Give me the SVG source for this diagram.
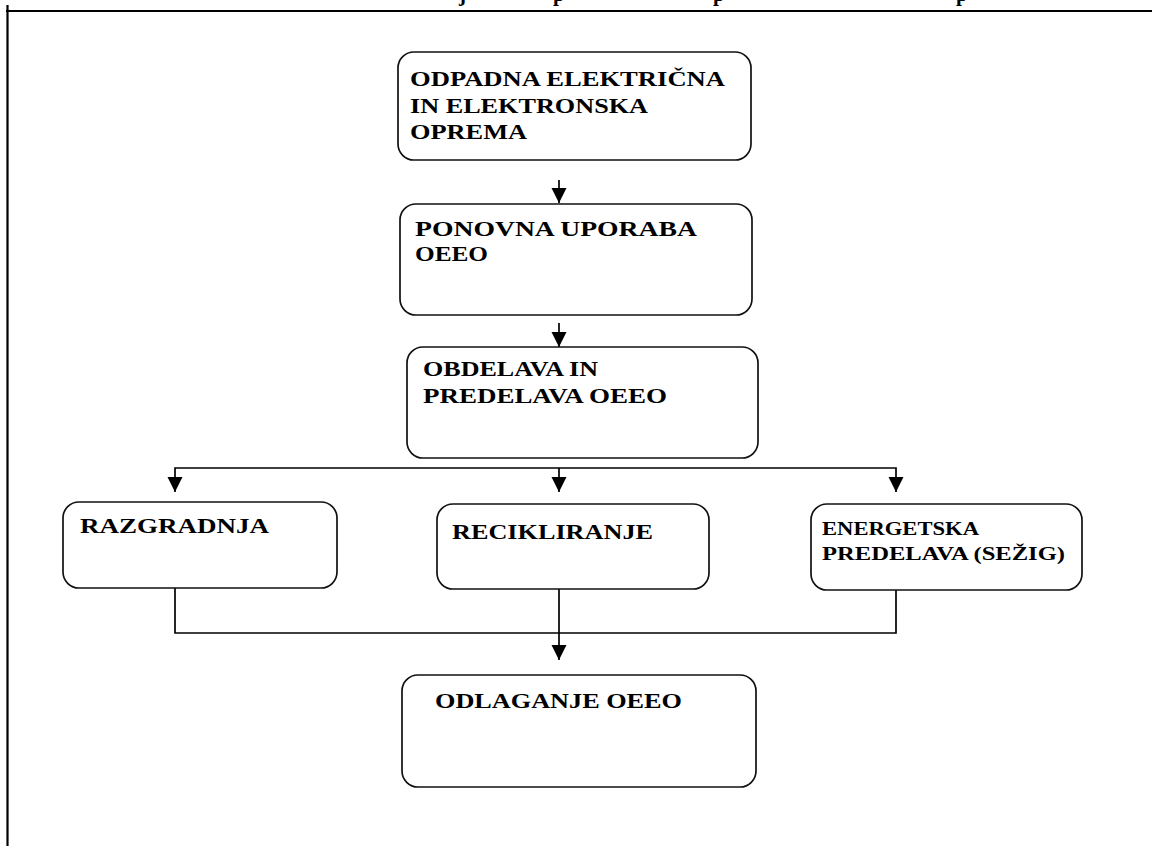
<svg xmlns="http://www.w3.org/2000/svg" width="1152" height="846" viewBox="0 0 1152 846">
  <style>
    .box { fill: #ffffff; stroke: #111111; stroke-width: 1.7; }
    .lbl { font-family: "Liberation Serif", "Times New Roman", serif; font-weight: bold; font-size: 21px; fill: #000000; }
    .sm { font-size: 18px; }
    .wire { fill: none; stroke: #000000; stroke-width: 1.7; }
    .frame { stroke: #000000; stroke-width: 2.2; fill: none; }
  </style>
  <defs>
    <marker id="arrow" markerUnits="userSpaceOnUse" markerWidth="16" markerHeight="16" refX="15" refY="7.5" orient="auto">
      <path d="M0,0 L15,7.5 L0,15 z" fill="#000000"/>
    </marker>
  </defs>

  <rect width="1152" height="846" fill="#ffffff"/>

  <!-- page frame with the descenders of the cut-off caption line -->
  <g id="frame">
    <line class="frame" x1="6" y1="11" x2="1152" y2="11"/>
    <line class="frame" x1="7.5" y1="5" x2="7.5" y2="846"/>
    <text class="lbl" font-size="20" y="1"><tspan x="459">j</tspan><tspan x="553">p</tspan><tspan x="713">p</tspan><tspan x="956">p</tspan></text>
  </g>

  <g id="connectors">
    <path class="wire" d="M559,180 V203" marker-end="url(#arrow)"/>
    <path class="wire" d="M559,323 V347" marker-end="url(#arrow)"/>
    <path class="wire" d="M559,468 H175 V492" marker-end="url(#arrow)"/>
    <path class="wire" d="M559,468 V492" marker-end="url(#arrow)"/>
    <path class="wire" d="M559,468 H896 V492" marker-end="url(#arrow)"/>
    <path class="wire" d="M175,588 V633 H559"/>
    <path class="wire" d="M896,590 V633 H559"/>
    <path class="wire" d="M559,589 V660" marker-end="url(#arrow)"/>
  </g>

  <g id="n-oeeo">
    <rect class="box" x="398" y="52" width="353" height="108" rx="16"/>
    <text class="lbl" x="410" y="86" textLength="315" lengthAdjust="spacingAndGlyphs">ODPADNA ELEKTRIČNA</text>
    <text class="lbl" x="410" y="113" textLength="238" lengthAdjust="spacingAndGlyphs">IN ELEKTRONSKA</text>
    <text class="lbl" x="410" y="139" textLength="117" lengthAdjust="spacingAndGlyphs">OPREMA</text>
  </g>

  <g id="n-ponovna">
    <rect class="box" x="400" y="204" width="352" height="111" rx="16"/>
    <text class="lbl" x="415" y="236" textLength="282" lengthAdjust="spacingAndGlyphs">PONOVNA UPORABA</text>
    <text class="lbl" x="415" y="261" textLength="73" lengthAdjust="spacingAndGlyphs">OEEO</text>
  </g>

  <g id="n-obdelava">
    <rect class="box" x="407" y="347" width="351" height="111" rx="16"/>
    <text class="lbl" x="423" y="376" textLength="175" lengthAdjust="spacingAndGlyphs">OBDELAVA IN</text>
    <text class="lbl" x="423" y="403" textLength="244" lengthAdjust="spacingAndGlyphs">PREDELAVA OEEO</text>
  </g>

  <g id="n-razgradnja">
    <rect class="box" x="63" y="502" width="274" height="86" rx="16"/>
    <text class="lbl" x="80" y="533" textLength="189" lengthAdjust="spacingAndGlyphs">RAZGRADNJA</text>
  </g>

  <g id="n-recikliranje">
    <rect class="box" x="437" y="504" width="272" height="85" rx="16"/>
    <text class="lbl" x="452" y="539" textLength="201" lengthAdjust="spacingAndGlyphs">RECIKLIRANJE</text>
  </g>

  <g id="n-energetska">
    <rect class="box" x="811" y="504" width="271" height="86" rx="16"/>
    <text class="lbl sm" x="822" y="535" textLength="157" lengthAdjust="spacingAndGlyphs">ENERGETSKA</text>
    <text class="lbl sm" x="822" y="560" textLength="243" lengthAdjust="spacingAndGlyphs">PREDELAVA (SEŽIG)</text>
  </g>

  <g id="n-odlaganje">
    <rect class="box" x="402" y="675" width="354" height="112" rx="16"/>
    <text class="lbl" x="435" y="708" textLength="247" lengthAdjust="spacingAndGlyphs">ODLAGANJE OEEO</text>
  </g>
</svg>
